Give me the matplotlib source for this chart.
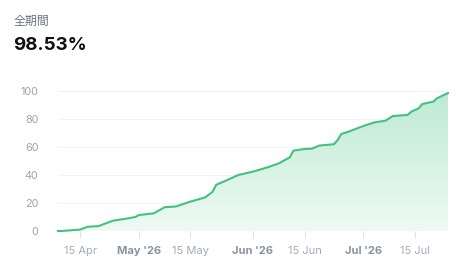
import numpy as np
import pandas as pd
import matplotlib
matplotlib.use("Agg")
import matplotlib.pyplot as plt
import matplotlib.dates as mdates
from matplotlib.colors import LinearSegmentedColormap

# 累積リターン (%) — 読み取り値
dates = pd.to_datetime([
    "2026-04-09", "2026-04-10", "2026-04-15", "2026-04-17", "2026-04-20",
    "2026-04-24", "2026-04-28", "2026-04-30", "2026-05-01", "2026-05-05",
    "2026-05-08", "2026-05-11", "2026-05-15", "2026-05-19", "2026-05-21",
    "2026-05-22", "2026-05-25", "2026-05-28", "2026-06-01", "2026-06-05",
    "2026-06-08", "2026-06-11", "2026-06-12", "2026-06-15", "2026-06-17",
    "2026-06-19", "2026-06-23", "2026-06-24", "2026-06-25", "2026-06-27",
    "2026-07-01", "2026-07-04", "2026-07-07", "2026-07-09", "2026-07-13",
    "2026-07-14", "2026-07-16", "2026-07-17", "2026-07-20", "2026-07-21",
    "2026-07-24",
])
values = [
    0, 0, 1, 3, 3.5,
    7.4, 9, 10, 11.4, 12.6,
    17, 17.5, 21, 24, 28,
    33, 36.4, 40, 42.4, 45.5,
    48.3, 52.6, 57.4, 58.6, 58.8,
    61, 62, 65, 69.3, 71,
    75, 77.6, 78.8, 82.1, 82.9,
    85.2, 87.6, 90.7, 92.4, 94.8,
    98.53,
]
tick_dates = pd.to_datetime(["2026-04-15", "2026-05-01", "2026-05-15", "2026-06-01",
                             "2026-06-15", "2026-07-01", "2026-07-15"])
tick_labels = ["15 Apr", "May '26", "15 May", "Jun '26", "15 Jun", "Jul '26", "15 Jul"]
y_ticks = [0, 20, 40, 60, 80, 100]

plt.rcParams['font.family'] = ['Inter', 'DejaVu Sans']

fig = plt.figure(figsize=(4.69, 2.76), dpi=100)
ax = fig.add_axes([58 / 469, 45 / 276, 390 / 469, 140 / 276])

x = mdates.date2num(dates)
y = np.array(values)

line_col = "#45c17f"
ax.plot(x, y, color=line_col, lw=1.5, clip_on=False, zorder=3)

# gradient fill under the line
cmap = LinearSegmentedColormap.from_list("g", ["#eefaf3", "#bfead3"])
grad = np.linspace(0, 1, 256).reshape(-1, 1)
im = ax.imshow(grad, cmap=cmap, aspect="auto", origin="lower",
               extent=[x[0], x[-1], 0, y.max()], zorder=1)
clip = plt.Polygon(np.column_stack([np.r_[x, x[::-1]], np.r_[y, np.zeros_like(y)]]),
                   transform=ax.transData, facecolor="none", edgecolor="none")
ax.add_patch(clip)
im.set_clip_path(clip)

ax.set_xlim(x[0], x[-1])
ax.set_ylim(0, 100)

for v in y_ticks[1:]:
    ax.axhline(v, color="#f0f2f5", lw=0.8, zorder=0)
ax.axhline(0, color="#eef0f3", lw=0.8, zorder=0)

for s in ax.spines.values():
    s.set_visible(False)

ax.set_yticks(y_ticks)
ax.set_yticklabels([str(v) for v in y_ticks])
ax.tick_params(axis="y", length=0, pad=14, labelsize=7.8, labelcolor="#9aa2b3")

ax.set_xticks(mdates.date2num(tick_dates))
ax.set_xticklabels(tick_labels)
ax.tick_params(axis="x", length=5, width=0.8, color="#dfe3e8", pad=6, labelsize=8)
for lbl in ax.get_xticklabels():
    if "'" in lbl.get_text():
        lbl.set_fontweight("bold")
        lbl.set_color("#8a93a5")
    else:
        lbl.set_color("#a3aabb")

fig.text(14 / 469, 1 - 21 / 276, "全期間", fontsize=8.6, color="#6b7280",
         va="center", ha="left", family=["Noto Sans CJK JP", "DejaVu Sans"])
fig.text(13 / 469, 1 - 46 / 276, "98.53%", fontsize=13.5, fontweight="bold",
         color="#111111", va="center", ha="left")

fig.savefig("out.png", dpi=100)
